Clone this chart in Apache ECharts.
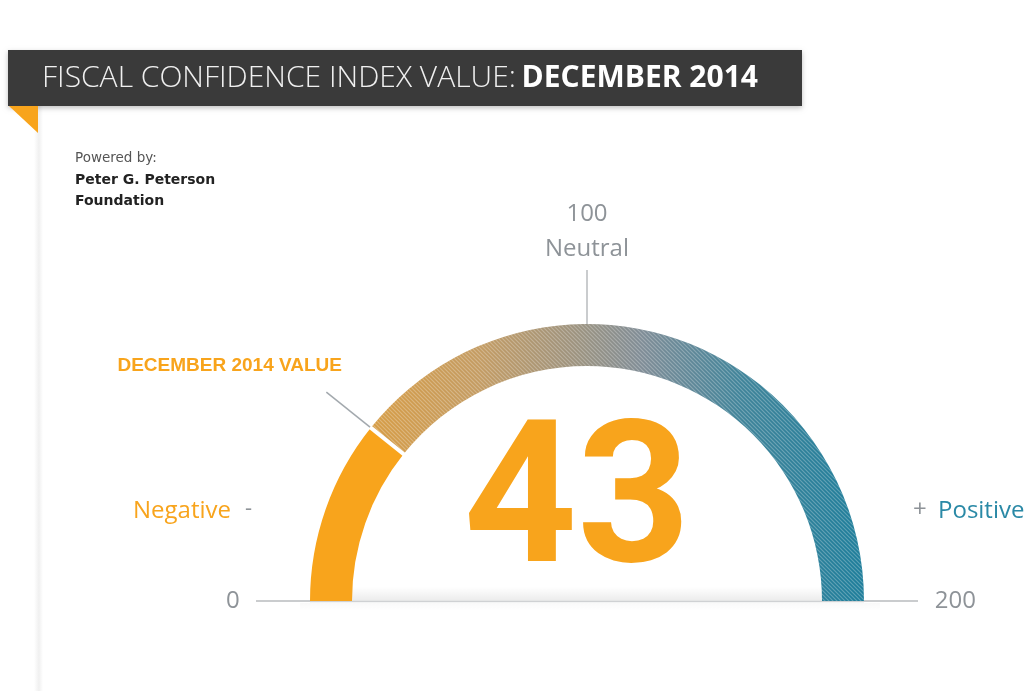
<!DOCTYPE html>
<html>
<head>
<meta charset="utf-8">
<script src="https://cdn.jsdelivr.net/npm/echarts@6/dist/echarts.min.js"></script>
<style>
html,body{margin:0;padding:0;background:#fff;}
#chart{width:1028px;height:691px;}
</style>
</head>
<body>
<div id="chart"></div>
<script>
// ---- data ----
const gaugeMin = 0;
const gaugeMax = 200;
const indexValue = [43];
const scaleTicks = [0, 100, 200];
const scaleNames = ['', 'Neutral', ''];
const titleLight = 'FISCAL CONFIDENCE INDEX VALUE:';
const titleBold = 'DECEMBER 2014';
const valueLabel = 'DECEMBER 2014 VALUE';
const poweredBy = ['Powered by:', 'Peter G. Peterson', 'Foundation'];
const sideLabels = ['Negative', 'Positive'];

// ---- styles ----
const ORANGE = '#f8a41c';
const TEAL = '#2a89a6';
const GREY = '#8e9398';
const FONT = '"Open Sans", Roboto, sans-serif';
const NUMFONT = 'Roboto, "Open Sans", sans-serif';

const chart = echarts.init(document.getElementById('chart'), null, {renderer: 'canvas'});

const arcGradient = new echarts.graphic.LinearGradient(0, 0, 1, 0, [
  {offset: 0, color: '#d69c45'},
  {offset: 0.22, color: '#c39b62'},
  {offset: 0.42, color: '#9b927f'},
  {offset: 0.55, color: '#7f8c96'},
  {offset: 0.75, color: '#3f8399'},
  {offset: 1, color: '#1d7d9a'}
]);

// diagonal hatching texture
const hatch = document.createElement('canvas');
hatch.width = 4; hatch.height = 4;
(function () {
  const c = hatch.getContext('2d');
  c.strokeStyle = 'rgba(255,255,255,0.28)';
  c.lineWidth = 1.1;
  c.beginPath();
  c.moveTo(-1, -1); c.lineTo(5, 5);
  c.moveTo(-1, 3); c.lineTo(1, 5);
  c.moveTo(3, -1); c.lineTo(5, 1);
  c.stroke();
})();

function tickLabel(v) {
  const i = scaleTicks.indexOf(v);
  if (i === 0) return '{l|' + v + '}';
  if (i === scaleTicks.length - 1) return '{r|' + v + '}';
  if (i > 0) return '{t|' + v + '}\n{t|' + scaleNames[i] + '}';
  return '';
}

const common = {
  type: 'gauge',
  min: gaugeMin,
  max: gaugeMax,
  startAngle: 180,
  endAngle: 0,
  center: [587, 601],
  radius: 277,
  splitNumber: scaleTicks.length - 1,
  animation: false
};
const bare = {
  axisLine: {show: false}, axisTick: {show: false}, splitLine: {show: false}, axisLabel: {show: false},
  anchor: {show: false}, title: {show: false}, detail: {show: false}
};

const option = {
  animation: false,
  backgroundColor: '#ffffff',
  graphic: [
    // left page shadow
    {type: 'rect', z: 0, shape: {x: 34, y: 106, width: 9, height: 585},
      style: {fill: new echarts.graphic.LinearGradient(0, 0, 1, 0, [
        {offset: 0, color: 'rgba(0,0,0,0)'},
        {offset: 0.55, color: 'rgba(0,0,0,0.06)'},
        {offset: 1, color: 'rgba(0,0,0,0)'}])}},
    // title bar
    {type: 'rect', z: 2, shape: {x: 8, y: 50, width: 794, height: 56},
      style: {fill: '#3a3a3a', shadowBlur: 5, shadowOffsetY: 2, shadowColor: 'rgba(0,0,0,0.25)'}},
    {type: 'polygon', z: 2, shape: {points: [[9, 106], [38, 106], [38, 133]]}, style: {fill: ORANGE}},
    {type: 'text', z: 3, x: 42, y: 78,
      style: {
        text: '{a|' + titleLight + '}{s| }{b|' + titleBold + '}',
        verticalAlign: 'middle',
        rich: {
          a: {fontFamily: FONT, fontSize: 30, fontWeight: 300, fill: '#f0f0f0'},
          s: {fontFamily: FONT, fontSize: 22, fill: '#f0f0f0'},
          b: {fontFamily: FONT, fontSize: 30, fontWeight: 'bold', fill: '#ffffff'}
        }
      }},
    // powered by
    {type: 'text', z: 3, x: 75, y: 158, style: {text: poweredBy[0], fontFamily: '"DejaVu Sans", sans-serif', fontSize: 13.5, fill: '#555', verticalAlign: 'middle'}},
    {type: 'text', z: 3, x: 75, y: 180, style: {text: poweredBy[1], fontFamily: '"DejaVu Sans", sans-serif', fontSize: 14, fontWeight: 'bold', fill: '#222', verticalAlign: 'middle'}},
    {type: 'text', z: 3, x: 75, y: 201, style: {text: poweredBy[2], fontFamily: '"DejaVu Sans", sans-serif', fontSize: 14, fontWeight: 'bold', fill: '#222', verticalAlign: 'middle'}},
    // value label
    {type: 'text', z: 3, x: 342, y: 366, style: {text: valueLabel, fontFamily: '"Liberation Sans", Arial, sans-serif', fontSize: 19, fontWeight: 'bold', fill: ORANGE, align: 'right', verticalAlign: 'middle'}},
    // side labels
    {type: 'text', z: 3, x: 133, y: 511, style: {text: sideLabels[0], fontFamily: FONT, fontSize: 24, fill: ORANGE, verticalAlign: 'middle'}},
    {type: 'text', z: 3, x: 245, y: 509, style: {text: '-', fontFamily: FONT, fontSize: 22, fill: GREY, verticalAlign: 'middle'}},
    {type: 'text', z: 3, x: 913, y: 510, style: {text: '+', fontFamily: FONT, fontSize: 24, fill: GREY, verticalAlign: 'middle'}},
    {type: 'text', z: 3, x: 938, y: 511, style: {text: sideLabels[1], fontFamily: FONT, fontSize: 24, fill: TEAL, verticalAlign: 'middle'}},
    // inner baseline shadow
    {type: 'rect', z: 1, shape: {x: 352, y: 587, width: 470, height: 14},
      style: {fill: new echarts.graphic.LinearGradient(0, 0, 0, 1, [
        {offset: 0, color: 'rgba(0,0,0,0)'},
        {offset: 1, color: 'rgba(0,0,0,0.08)'}])}},
    {type: 'line', z: 1, shape: {x1: 310, y1: 601.5, x2: 864, y2: 601.5}, style: {stroke: '#cfd1d3', lineWidth: 1.5}},
    {type: 'rect', z: 1, shape: {x: 300, y: 603, width: 580, height: 8},
      style: {fill: new echarts.graphic.LinearGradient(0, 0, 0, 1, [
        {offset: 0, color: 'rgba(0,0,0,0.025)'},
        {offset: 1, color: 'rgba(0,0,0,0)'}])}}
  ],
  series: [
    Object.assign({}, common, {
      z: 3,
      axisLine: {lineStyle: {width: 42, color: [[indexValue[0] / gaugeMax, ORANGE], [1, arcGradient]]}},
      axisTick: {show: false},
      splitLine: {show: true, distance: -96, length: 54, lineStyle: {color: '#b8bbbe', width: 1.5}},
      axisLabel: {
        show: true, distance: -85, color: GREY, fontSize: 24, fontFamily: FONT,
        align: 'center', verticalAlign: 'middle', lineHeight: 35,
        formatter: tickLabel,
        rich: {
          l: {fontSize: 24, fontFamily: FONT, color: GREY, padding: [0, 0, 0, 43]},
          r: {fontSize: 24, fontFamily: FONT, color: GREY, padding: [0, 15, 0, 0]},
          t: {fontSize: 24, fontFamily: FONT, color: GREY, lineHeight: 35}
        }
      },
      pointer: {show: false},
      anchor: {show: false},
      title: {show: false},
      detail: {
        show: true, offsetCenter: [-10, -90], formatter: '{value}',
        fontSize: 198, fontWeight: 'bold', fontFamily: NUMFONT, color: ORANGE,
        valueAnimation: false
      },
      data: [{value: indexValue[0]}]
    }),
    // hatching overlay on the remaining arc
    Object.assign({}, common, bare, {
      z: 4,
      axisLine: {show: true, lineStyle: {width: 42, color: [[indexValue[0] / gaugeMax, 'rgba(0,0,0,0)'], [1, {image: hatch, repeat: 'repeat'}]]}},
      pointer: {show: false},
      data: [{value: indexValue[0]}]
    }),
    Object.assign({}, common, bare, {
      z: 5,
      pointer: {show: true, icon: 'rect', width: 4, length: 48, offsetCenter: [0, -232], itemStyle: {color: '#ffffff'}},
      data: [{value: indexValue[0]}]
    }),
    Object.assign({}, common, bare, {
      z: 5,
      pointer: {show: true, icon: 'rect', width: 1.5, length: 56, offsetCenter: [0, -278], itemStyle: {color: '#a3a9ae'}},
      data: [{value: indexValue[0]}]
    })
  ]
};

chart.setOption(option);
</script>
</body>
</html>
